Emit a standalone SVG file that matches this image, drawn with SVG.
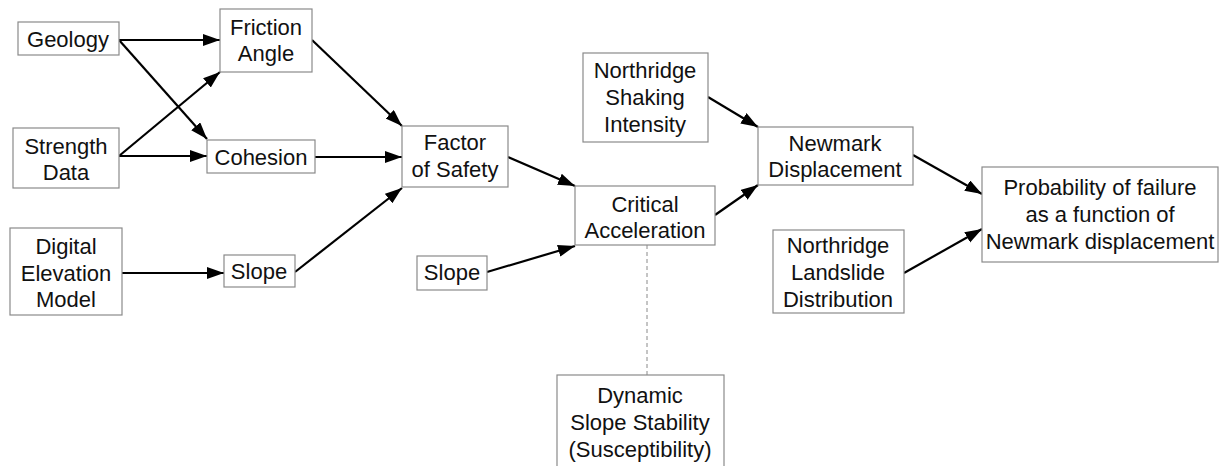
<svg xmlns="http://www.w3.org/2000/svg" width="1222" height="466" viewBox="0 0 1222 466">
<defs>
<style>
.box{fill:#fff;stroke:#8a8a8a;stroke-width:1.2}
.t{font-family:"Liberation Sans",Arial,sans-serif;font-size:22px;fill:#111;text-anchor:middle}
.c{stroke:#000;stroke-width:2.2;fill:none;marker-end:url(#ah)}
.d{stroke:#8a8a8a;stroke-width:1;stroke-dasharray:4 3;fill:none}
</style>
<marker id="ah" markerUnits="userSpaceOnUse" markerWidth="18" markerHeight="14" refX="17" refY="6" orient="auto">
<path d="M0,0 L17,6 L0,12 z" fill="#000"/>
</marker>
</defs>
<rect width="1222" height="466" fill="#fff"/>
<g id="connectors">
<line class="c" x1="119" y1="40" x2="220" y2="40"/>
<line class="c" x1="119" y1="40" x2="207" y2="139"/>
<line class="c" x1="119" y1="156" x2="220" y2="72"/>
<line class="c" x1="119" y1="156" x2="207" y2="156"/>
<line class="c" x1="312" y1="40" x2="402" y2="126"/>
<line class="c" x1="315" y1="157" x2="402" y2="157"/>
<line class="c" x1="122" y1="273" x2="224" y2="273"/>
<line class="c" x1="295" y1="272" x2="402" y2="188"/>
<line class="c" x1="508" y1="157" x2="575" y2="186"/>
<line class="c" x1="487" y1="272" x2="575" y2="246"/>
<line class="c" x1="715" y1="215" x2="758" y2="185"/>
<line class="c" x1="708" y1="97" x2="758" y2="127"/>
<line class="c" x1="913" y1="155" x2="982" y2="194"/>
<line class="c" x1="904" y1="273" x2="982" y2="229"/>
<line class="d" x1="647" y1="245" x2="647" y2="375"/>
</g>
<g id="geology"><rect class="box" x="18" y="22" width="101" height="33"/><text class="t" x="68" y="47">Geology</text></g>
<g id="friction-angle"><rect class="box" x="220" y="9" width="92" height="63"/><text class="t" x="266" y="35">Friction</text><text class="t" x="266" y="61">Angle</text></g>
<g id="strength-data"><rect class="box" x="13" y="128" width="106" height="60"/><text class="t" x="66" y="154">Strength</text><text class="t" x="66" y="180">Data</text></g>
<g id="cohesion"><rect class="box" x="207" y="140" width="108" height="33"/><text class="t" x="261" y="165">Cohesion</text></g>
<g id="dem"><rect class="box" x="10" y="228" width="112" height="87"/><text class="t" x="66" y="254">Digital</text><text class="t" x="66" y="281">Elevation</text><text class="t" x="66" y="307">Model</text></g>
<g id="slope-1"><rect class="box" x="224" y="255" width="71" height="32"/><text class="t" x="259" y="279">Slope</text></g>
<g id="factor-of-safety"><rect class="box" x="402" y="126" width="106" height="61"/><text class="t" x="455" y="150">Factor</text><text class="t" x="455" y="177">of Safety</text></g>
<g id="slope-2"><rect class="box" x="417" y="256" width="70" height="34"/><text class="t" x="452" y="280">Slope</text></g>
<g id="critical-acceleration"><rect class="box" x="575" y="186" width="140" height="59"/><text class="t" x="645" y="212">Critical</text><text class="t" x="645" y="238">Acceleration</text></g>
<g id="shaking-intensity"><rect class="box" x="583" y="53" width="125" height="89"/><text class="t" x="645" y="78">Northridge</text><text class="t" x="645" y="105">Shaking</text><text class="t" x="645" y="132">Intensity</text></g>
<g id="newmark-displacement"><rect class="box" x="758" y="127" width="155" height="58"/><text class="t" x="835" y="151">Newmark</text><text class="t" x="835" y="177">Displacement</text></g>
<g id="landslide-distribution"><rect class="box" x="773" y="230" width="131" height="83"/><text class="t" x="838" y="253">Northridge</text><text class="t" x="838" y="280">Landslide</text><text class="t" x="838" y="307">Distribution</text></g>
<g id="probability"><rect class="box" x="982" y="167" width="236" height="95"/><text class="t" x="1100" y="195">Probability of failure</text><text class="t" x="1100" y="222">as a function of</text><text class="t" x="1100" y="249">Newmark displacement</text></g>
<g id="dynamic-slope-stability"><rect class="box" x="557" y="375" width="167" height="100"/><text class="t" x="640" y="403">Dynamic</text><text class="t" x="640" y="430">Slope Stability</text><text class="t" x="640" y="457">(Susceptibility)</text></g>
</svg>
